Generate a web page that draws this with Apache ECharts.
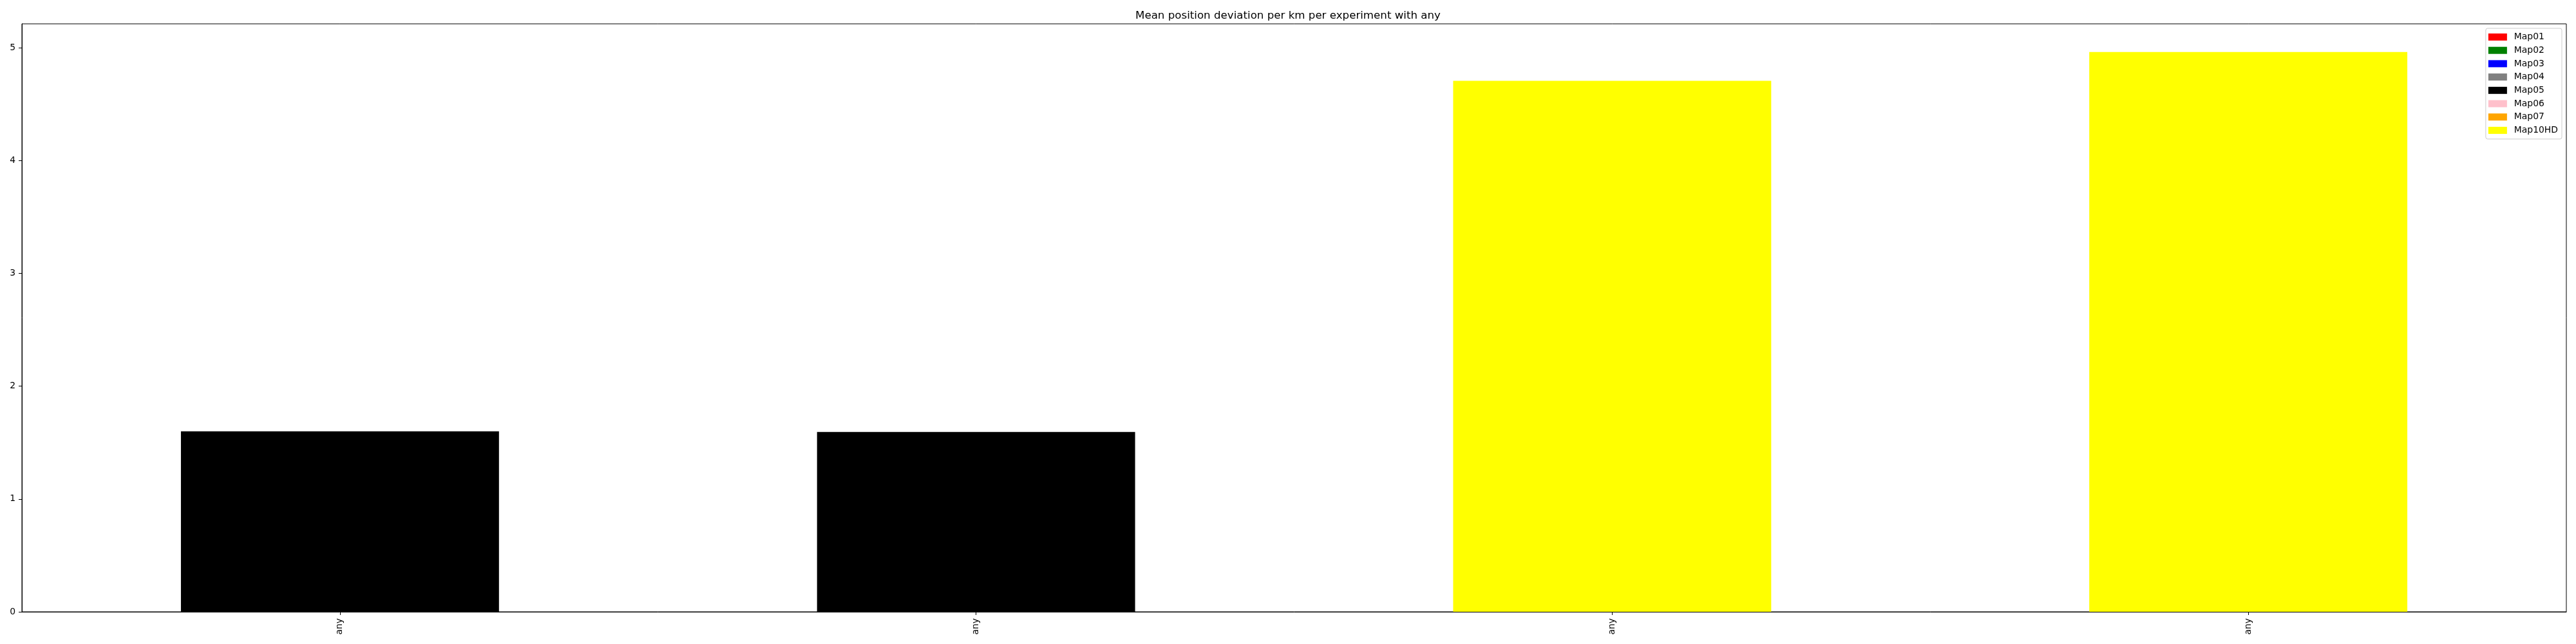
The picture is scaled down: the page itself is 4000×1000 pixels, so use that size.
<!DOCTYPE html>
<html>
<head>
<meta charset="utf-8">
<script src="https://cdn.jsdelivr.net/npm/echarts@6/dist/echarts.min.js"></script>
<style>
html,body{margin:0;padding:0;background:#fff;}
#chart{width:4000px;height:1000px;}
</style>
</head>
<body>
<div id="chart"></div>
<script>
// ---- data ----
const chartTitle = 'Mean position deviation per km per experiment with any';
const categories = ['any', 'any', 'any', 'any'];
const seriesNames = ['Map01', 'Map02', 'Map03', 'Map04', 'Map05', 'Map06', 'Map07', 'Map10HD'];
const seriesColors = ['#ff0000', '#008000', '#0000ff', '#808080', '#000000', '#ffc0cb', '#ffa500', '#ffff00'];
const map01Values = [null, null, null, null];
const map02Values = [null, null, null, null];
const map03Values = [null, null, null, null];
const map04Values = [null, null, null, null];
const map05Values = [1.600, 1.594, null, null];
const map06Values = [null, null, null, null];
const map07Values = [null, null, null, null];
const map10HDValues = [null, null, 4.707, 4.963];
const yTickValues = [0, 1, 2, 3, 4, 5];
const yAxisMax = 5.213;

const seriesValues = [map01Values, map02Values, map03Values, map04Values,
                      map05Values, map06Values, map07Values, map10HDValues];

const FONT = 'DejaVu Sans';
const chart = echarts.init(document.getElementById('chart'), null, {renderer: 'canvas'});

const series = seriesNames.map((name, i) => ({
  name: name,
  type: 'bar',
  stack: 'total',
  barWidth: '50%',
  data: seriesValues[i],
  itemStyle: {color: seriesColors[i]},
  emphasis: {disabled: true}
}));

chart.setOption({
  animation: false,
  backgroundColor: '#ffffff',
  textStyle: {fontFamily: FONT},
  title: {
    text: chartTitle,
    left: 'center',
    top: 16,
    padding: [0, 0, 0, 19],
    textStyle: {fontFamily: FONT, fontSize: 16.67, fontWeight: 'normal', color: '#000'}
  },
  legend: {
    orient: 'vertical',
    right: 22,
    top: 44,
    padding: [6.5, 6, 6.5, 4],
    itemWidth: 29,
    itemHeight: 11,
    itemGap: 6.7,
    icon: 'rect',
    borderColor: '#cccccc',
    borderWidth: 1,
    borderRadius: 3,
    backgroundColor: 'rgba(255,255,255,0.8)',
    selectedMode: false,
    textStyle: {fontFamily: FONT, fontSize: 13.9, color: '#000', lineHeight: 14, padding: [0, 0, 0, 6]},
    data: seriesNames
  },
  grid: {
    left: 34,
    right: 15,
    top: 37,
    bottom: 50,
    show: true,
    borderColor: '#000',
    borderWidth: 1,
    containLabel: false
  },
  xAxis: {
    type: 'category',
    data: categories,
    boundaryGap: true,
    axisLine: {show: true, lineStyle: {color: '#000', width: 1}},
    axisTick: {show: true, alignWithLabel: true, length: 5, lineStyle: {color: '#000', width: 1}},
    axisLabel: {show: true, rotate: 90, margin: 10, fontFamily: FONT, fontSize: 13.9, color: '#000', interval: 0},
    splitLine: {show: false}
  },
  yAxis: {
    type: 'value',
    min: 0,
    max: yAxisMax,
    axisLine: {show: true, lineStyle: {color: '#000', width: 1}},
    axisTick: {show: true, length: 5, lineStyle: {color: '#000', width: 1}, customValues: yTickValues},
    axisLabel: {show: true, margin: 10, fontFamily: FONT, fontSize: 13.9, color: '#000', customValues: yTickValues},
    splitLine: {show: false}
  },
  series: series
});
</script>
</body>
</html>
